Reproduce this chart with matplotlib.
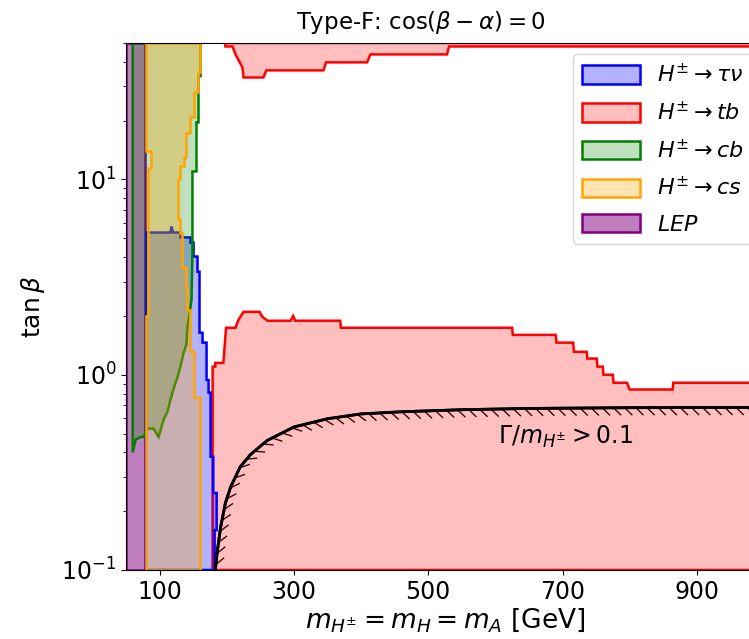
import matplotlib.pyplot as plt
import matplotlib.patheffects as pe

# LEP exclusion (m < ~80 GeV)
lep_x = [50, 79, 79, 50]
lep_y = [0.1, 0.1, 50, 50]

# H+ -> tau nu
taunu_x = [80, 80, 116, 118, 120, 131, 131, 146, 146, 150.6, 150.6, 156.5, 156.5, 159.5, 159.5,
           164, 164, 170, 170, 173, 173, 176, 176, 180, 180, 185, 185, 182, 182]
taunu_y = [0.1, 5.35, 5.35, 5.74, 5.35, 5.35, 5.05, 5.05, 4.75, 4.75, 4.03, 4.03, 3.37, 3.37, 1.64,
           1.64, 1.46, 1.46, 0.94, 0.94, 0.81, 0.81, 0.38, 0.38, 0.248, 0.248, 0.16, 0.16, 0.1]

# H+ -> tb, low tan(beta) part
tb_low_x = [179, 179, 183, 183, 195, 199, 213, 217.5, 225, 249, 253, 261, 295, 299, 302, 369, 370,
            625, 626, 690, 691, 716, 717, 736, 737, 751, 752, 760, 761, 775, 776, 796, 800,
            864, 865, 1000, 1000]
tb_low_y = [0.1, 1.10, 1.10, 1.15, 1.15, 1.74, 1.74, 1.91, 2.10, 2.10, 1.98, 1.89, 1.89, 2.0, 1.89,
            1.89, 1.74, 1.74, 1.60, 1.60, 1.46, 1.46, 1.31, 1.31, 1.21, 1.21, 1.10, 1.10, 1.0,
            1.0, 0.91, 0.91, 0.84, 0.84, 0.91, 0.91, 0.1]

# H+ -> tb, high tan(beta) part
tb_high_x = [198, 198, 208.6, 213, 223.4, 225, 254.6, 259, 344, 348, 409, 414, 528, 531, 1000, 1000]
tb_high_y = [50, 48, 48, 43.7, 37.5, 33.3, 33.3, 36.2, 36.2, 39.8, 39.8, 43.7, 43.7, 48, 48, 50]

# H+ -> cb
cb_x = [60, 60, 64.3, 71.7, 76, 82, 91, 98.5, 101.5, 106, 112, 116, 121, 127, 131, 135.7, 140,
        141.6, 144.6, 147.6, 149, 149, 155, 155, 158, 158, 161, 161]
cb_y = [50, 0.40, 0.465, 0.48, 0.48, 0.53, 0.53, 0.48, 0.52, 0.59, 0.65, 0.74, 0.85, 0.98, 1.10,
        1.29, 1.43, 1.77, 2.04, 2.43, 4.37, 11, 11, 19.6, 19.6, 33.8, 33.8, 50]

# H+ -> cs
cs_x = [80, 80, 83, 83, 87, 87, 80, 80, 159.5, 159.5, 156.5, 156.5, 150.6, 150.6, 144.6, 144.6,
        140, 140, 135.7, 135.7, 131, 131, 126.8, 126.8, 129.7, 129.7, 134, 134, 138.7, 138.7,
        141.6, 141.6, 144.6, 144.6, 149, 149, 152, 152, 159.5, 159.5]
cs_y = [0.1, 2.0, 2.0, 11.5, 11.5, 14.0, 14.0, 50, 50, 35.4, 35.4, 27.9, 27.9, 21, 21, 17.4,
        17.4, 13.1, 13.1, 11.7, 11.7, 10, 10, 6.24, 6.24, 5.35, 5.35, 3.58, 3.58, 2.83,
        2.83, 2.15, 2.15, 1.34, 1.34, 1.30, 1.30, 0.77, 0.77, 0.1]

# Gamma / m = 0.1 contour
width_x = [183, 186, 191, 198, 206, 220, 235, 260, 300, 350, 400, 460, 550, 650, 800, 1000]
width_y = [0.1, 0.125, 0.166, 0.22, 0.267, 0.337, 0.389, 0.46, 0.54, 0.595, 0.63, 0.646, 0.662,
           0.672, 0.678, 0.68]

fig = plt.figure(figsize=(7.49, 6.39), dpi=100)
ax = fig.add_axes([0.1682, 0.108, 0.8518, 0.8247])

lw = 1.8
ax.fill(tb_low_x, tb_low_y, facecolor=('red', 0.25), edgecolor='red', lw=lw, zorder=1,
        label=r'$H^{\pm}\to tb$')
ax.fill(tb_high_x, tb_high_y, facecolor=('red', 0.25), edgecolor='red', lw=lw, zorder=1)
ax.fill(lep_x, lep_y, facecolor=('purple', 0.5), edgecolor='purple', lw=lw, zorder=1.2,
        label=r'$LEP$')
ax.fill(taunu_x, taunu_y, facecolor=('blue', 0.3), edgecolor='blue', lw=lw, zorder=1.4,
        label=r'$H^{\pm}\to\tau\nu$')
ax.fill(cb_x, cb_y, facecolor=('green', 0.25), edgecolor='green', lw=lw, zorder=1.6,
        label=r'$H^{\pm}\to cb$')
ax.fill(cs_x, cs_y, facecolor=('orange', 0.3), edgecolor='orange', lw=lw, zorder=1.8,
        label=r'$H^{\pm}\to cs$')

ax.plot(width_x, width_y, color='black', lw=2, zorder=3,
        path_effects=[pe.withTickedStroke(angle=-45, spacing=8, length=0.9, linewidth=1.0,
                                          foreground='#3a0a0a'), pe.Normal()])
ax.text(705, 0.48, r'$\Gamma/m_{H^{\pm}} > 0.1$', fontsize=17, ha='center', va='center')

ax.set_yscale('log')
ax.set_xlim(50, 1000)
ax.set_ylim(0.1, 50)
ax.set_xticks([100, 300, 500, 700, 900])
ax.tick_params(labelsize=17)
ax.set_xlabel(r'$m_{H^{\pm}}=m_H=m_A$ [GeV]', fontsize=19, labelpad=2)
ax.set_ylabel(r'$\tan\beta$', fontsize=18, labelpad=10)

handles, labels = ax.get_legend_handles_labels()
order = [labels.index(l) for l in [r'$H^{\pm}\to\tau\nu$', r'$H^{\pm}\to tb$',
                                   r'$H^{\pm}\to cb$', r'$H^{\pm}\to cs$', r'$LEP$']]
ax.legend([handles[i] for i in order], [labels[i] for i in order], loc='upper right',
          fontsize=16, handlelength=2.6, handleheight=0.9, labelspacing=0.65)

fig.text(421 / 749, 1 - 22 / 639, r'Type-F: $\cos(\beta-\alpha)=0$', fontsize=16.5,
         ha='center', va='center')

fig.savefig('out.png', dpi=100)
